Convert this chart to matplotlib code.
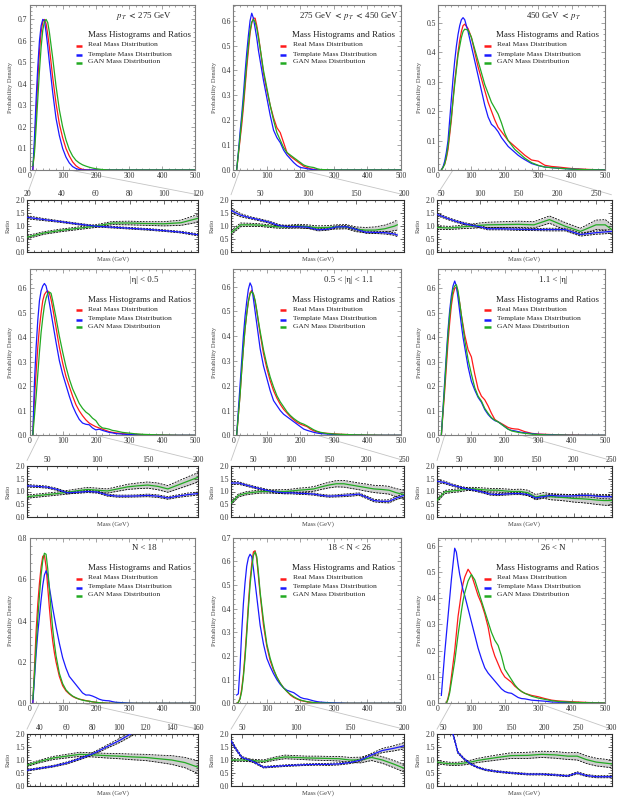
import numpy as np
import matplotlib
matplotlib.use("Agg")
import matplotlib.pyplot as plt
from matplotlib.patches import ConnectionPatch
from matplotlib.ticker import MultipleLocator, FormatStrFormatter, FixedLocator

nan = float("nan")

# ---------------- data ----------------
mass_grid = [10, 15, 20, 25, 30, 35, 40, 45, 50, 55, 60, 65, 70, 75, 80,
             90, 100, 110, 120, 130, 140, 150, 160, 170, 180, 190, 200, 210, 220, 230,
             240, 250, 260, 280, 300, 320, 340, 360, 400, 450, 500]

panel_labels = [r"$\boldsymbol{p_T}$ $\boldsymbol{<}$ 275 GeV",
                r"275 GeV $\boldsymbol{<}$ $\boldsymbol{p_T}$ $\boldsymbol{<}$ 450 GeV",
                r"450 GeV $\boldsymbol{<}$ $\boldsymbol{p_T}$",
                "|η| < 0.5", "0.5 < |η| < 1.1", "1.1 < |η|",
                "N < 18", "18 < N < 26", "26 < N"]
legend_title = "Mass Histograms and Ratios"
legend_names = ["Real Mass Distribution", "Template Mass Distribution", "GAN Mass Distribution"]

# pT < 275
pt1_real = [0, .10, .26, .42, .55, .64, .69, .70, .68, .63, .57, .50, .43, .37, .31,
            .215, .15, .10, .065, .038, .02, .009, .003, .001, 0, 0, 0, 0, 0, 0, 0, 0, 0, 0, 0, 0, 0, 0, 0, 0, 0]
pt1_template = [0, .15, .33, .48, .60, .67, .70, .695, .64, .575, .50, .43, .36, .30, .24,
                .16, .10, .06, .033, .016, .007, .002, 0, 0, 0, 0, 0, 0, 0, 0, 0, 0, 0, 0, 0, 0, 0, 0, 0, 0, 0]
pt1_gan = [.02, .08, .20, .33, .46, .57, .65, .69, .70, .685, .64, .58, .52, .455, .39,
           .28, .20, .14, .095, .065, .045, .033, .024, .018, .013, .009, .006, .004, .002, .001, 0, 0, 0, 0, 0, 0, 0, 0, 0, 0, 0]
# 275 < pT < 450
pt2_real = [0, .06, .12, .18, .25, .33, .41, .48, .55, .59, .61, .61, .58, .54, .49,
            .39, .32, .26, .21, .17, .15, .11, .07, .055, .045, .035, .025, .015, .01, .005, .003, .001, 0, 0, 0, 0, 0, 0, 0, 0, 0]
pt2_template = [0, .07, .15, .22, .30, .39, .47, .54, .60, .63, .61, .57, .53, .48, .44,
                .36, .29, .22, .16, .13, .11, .08, .06, .045, .03, .018, .01, .008, .005, .003, .001, 0, 0, 0, 0, 0, 0, 0, 0, 0, 0]
pt2_gan = [0, .065, .13, .20, .27, .35, .43, .50, .56, .595, .605, .595, .57, .53, .49,
           .40, .33, .26, .20, .15, .12, .09, .07, .06, .05, .04, .03, .02, .015, .012, .01, .005, .002, .001, 0, 0, 0, 0, 0, 0, 0]
# 450 < pT
pt3_real = [0, .01, .02, .04, .07, .12, .17, .24, .30, .35, .40, .44, .47, .49, .495,
            .48, .45, .40, .35, .31, .27, .23, .20, .17, .145, .13, .115, .10, .09, .08, .07, .06, .05, .034, .03, .016, .012, .01, .005, .002, 0]
pt3_template = [0, .01, .03, .06, .10, .17, .24, .31, .37, .42, .46, .49, .51, .517, .51,
                .47, .42, .37, .32, .27, .22, .18, .155, .145, .13, .11, .095, .08, .07, .06, .05, .042, .035, .022, .015, .01, .008, .006, .003, .001, 0]
pt3_gan = [0, .008, .02, .045, .08, .13, .18, .235, .29, .34, .39, .42, .45, .47, .478,
           .475, .45, .41, .37, .33, .29, .26, .23, .21, .19, .16, .125, .10, .085, .07, .06, .05, .04, .025, .016, .01, .008, .006, .003, .001, 0]
# |eta| < 0.5
eta1_real = [0, .15, .26, .36, .44, .50, .55, .575, .585, .59, .58, .555, .52, .48, .44,
             .36, .295, .24, .20, .16, .125, .10, .08, .063, .05, .042, .035, .03, .025, .02, .015, .012, .01, .007, .005, .004, .003, .002, .001, 0, 0]
eta1_template = [0, .22, .36, .47, .55, .59, .61, .62, .61, .58, .54, .50, .46, .42, .38,
                 .305, .25, .205, .16, .12, .09, .065, .05, .045, .043, .03, .022, .025, .02, .016, .012, .01, .007, .005, .003, .002, .001, .001, 0, 0, 0]
eta1_gan = [0, .08, .16, .25, .34, .42, .48, .53, .56, .58, .585, .58, .55, .515, .48,
            .405, .34, .28, .23, .19, .16, .13, .11, .095, .085, .07, .06, .04, .03, .028, .025, .02, .018, .012, .009, .006, .004, .003, .001, 0, 0]
# 0.5 < |eta| < 1.1
eta2_real = [0, .08, .16, .26, .35, .43, .49, .54, .575, .585, .57, .54, .50, .455, .41,
             .33, .27, .22, .18, .15, .125, .105, .09, .075, .063, .052, .045, .04, .035, .025, .018, .014, .01, .008, .006, .004, .003, .002, .001, 0, 0]
eta2_template = [0, .10, .20, .30, .40, .48, .54, .59, .615, .60, .55, .50, .45, .40, .35,
                 .28, .23, .18, .14, .12, .10, .085, .075, .065, .055, .045, .035, .025, .02, .016, .012, .009, .007, .005, .003, .002, .001, .001, 0, 0, 0]
eta2_gan = [0, .08, .16, .26, .35, .43, .49, .54, .57, .58, .57, .545, .505, .46, .42,
            .345, .285, .235, .195, .16, .135, .115, .095, .08, .068, .058, .05, .045, .038, .03, .022, .016, .012, .007, .005, .004, .003, .002, .001, 0, 0]
# 1.1 < |eta|
eta3_real = [0, .09, .18, .28, .38, .46, .53, .575, .60, .605, .58, .54, .49, .45, .41,
             .35, .32, .25, .19, .16, .145, .12, .09, .065, .055, .048, .04, .032, .028, .026, .025, .02, .015, .008, .005, .004, .003, .002, .001, 0, 0]
eta3_template = [0, .11, .22, .33, .43, .51, .57, .61, .63, .61, .56, .505, .45, .40, .36,
                 .28, .22, .185, .155, .135, .105, .085, .07, .06, .055, .045, .035, .025, .02, .018, .015, .012, .01, .007, .004, .003, .002, .001, 0, 0, 0]
eta3_gan = [0, .10, .20, .31, .41, .49, .55, .595, .61, .615, .59, .54, .49, .44, .39,
            .31, .25, .195, .16, .14, .11, .09, .072, .062, .055, .045, .035, .025, .018, .015, .012, .01, .008, .005, .003, .002, .001, .001, 0, 0, 0]
# N < 18
n1_real = [0, .17, .35, .48, .58, .66, .71, .715, .66, .56, .46, .37, .30, .245, .20,
           .13, .085, .06, .045, .033, .025, .02, .017, .013, .01, .007, .005, .003, .002, .001, 0, 0, 0, 0, 0, 0, 0, 0, 0, 0, 0]
n1_template = [0, .12, .24, .34, .42, .50, .57, .62, .64, .62, .56, .51, .46, .415, .37,
               .29, .22, .17, .13, .11, .09, .07, .05, .04, .04, .035, .028, .02, .015, .013, .012, .008, .005, .003, .001, 0, 0, 0, 0, 0, 0]
n1_gan = [.02, .14, .28, .41, .52, .62, .69, .725, .72, .65, .55, .45, .36, .29, .23,
          .145, .095, .065, .048, .035, .027, .02, .015, .012, .01, .007, .005, .003, .002, .001, 0, 0, 0, 0, 0, 0, 0, 0, 0, 0, 0]
# 18 < N < 26
n2_real = [0, .005, .02, .06, .12, .21, .31, .42, .52, .59, .64, .645, .61, .535, .46,
           .33, .24, .18, .14, .11, .085, .065, .05, .035, .025, .018, .012, .009, .006, .004, .003, .002, .001, .001, 0, 0, 0, 0, 0, 0, 0]
n2_template = [.035, .04, .15, .30, .42, .51, .58, .615, .63, .62, .57, .51, .45, .39, .33,
               .25, .19, .155, .125, .10, .08, .065, .055, .05, .045, .035, .025, .02, .018, .014, .01, .007, .005, .003, .002, .001, 0, 0, 0, 0, 0]
n2_gan = [0, .004, .018, .05, .11, .19, .29, .40, .50, .57, .625, .64, .62, .55, .47,
          .35, .25, .19, .145, .11, .085, .065, .05, .038, .028, .02, .014, .01, .007, .005, .003, .002, .001, .001, 0, 0, 0, 0, 0, 0, 0]
# 26 < N
n3_real = [nan, nan, nan, 0, .02, .05, .10, .15, .20, .265, .33, .375, .42, .455, .48,
           .51, .49, .45, .41, .38, .34, .29, .22, .18, .15, .12, .10, .09, .08, .065, .055, .045, .038, .03, .025, .018, .012, .009, .006, .003, .001]
n3_template = [.03, .11, .19, .26, .33, .40, .47, .53, .59, .575, .53, .49, .46, .43, .41,
               .36, .31, .26, .21, .17, .135, .115, .10, .085, .07, .055, .045, .04, .038, .03, .022, .018, .017, .012, .01, .008, .005, .004, .003, .001, 0]
n3_gan = [nan, nan, nan, 0, .015, .04, .08, .12, .16, .21, .26, .305, .35, .39, .42,
          .465, .49, .47, .43, .39, .35, .31, .27, .24, .22, .18, .13, .11, .09, .07, .055, .045, .038, .027, .02, .015, .01, .007, .004, .002, .001]

# ratio plots
pt1_ratio_mass = [20, 30, 40, 50, 60, 70, 80, 90, 100, 110, 120]
pt1_tmpl_ratio = [1.34, 1.25, 1.17, 1.08, 1.00, 0.96, 0.92, 0.88, 0.83, 0.77, 0.67]
pt1_tmpl_err = [0.06, 0.04, 0.03, 0.03, 0.03, 0.03, 0.03, 0.03, 0.03, 0.03, 0.04]
pt1_gan_ratio = [0.58, 0.74, 0.84, 0.92, 1.00, 1.12, 1.12, 1.10, 1.09, 1.13, 1.30]
pt1_gan_err = [0.06, 0.05, 0.05, 0.05, 0.05, 0.06, 0.07, 0.07, 0.08, 0.10, 0.15]

pt2_ratio_mass = [20, 30, 40, 50, 60, 70, 80, 90, 100, 110, 120, 130, 140, 150, 160, 170, 180, 190, 193]
pt2_tmpl_ratio = [1.60, 1.42, 1.32, 1.24, 1.15, 1.02, 0.98, 0.98, 0.96, 0.86, 0.88, 0.97, 0.98, 0.88, 0.77, 0.76, 0.75, 0.70, 0.66]
pt2_tmpl_err = [0.10, 0.06, 0.04, 0.04, 0.04, 0.04, 0.04, 0.04, 0.04, 0.04, 0.04, 0.04, 0.04, 0.04, 0.04, 0.04, 0.05, 0.05, 0.06]
pt2_gan_ratio = [0.75, 1.05, 1.05, 1.04, 1.00, 0.97, 0.98, 1.00, 0.98, 0.94, 0.95, 0.97, 0.98, 0.88, 0.85, 0.85, 0.90, 1.00, 1.05]
pt2_gan_err = [0.08, 0.07, 0.06, 0.05, 0.05, 0.05, 0.06, 0.07, 0.07, 0.07, 0.07, 0.08, 0.08, 0.09, 0.10, 0.12, 0.14, 0.17, 0.20]

pt3_ratio_mass = [45, 60, 70, 80, 90, 100, 110, 130, 150, 170, 190, 210, 230, 250, 262, 270]
pt3_tmpl_ratio = [1.45, 1.28, 1.18, 1.10, 1.03, 0.98, 0.90, 0.90, 0.88, 0.87, 0.87, 0.87, 0.68, 0.75, 0.78, 0.80]
pt3_tmpl_err = [0.05, 0.04, 0.04, 0.04, 0.04, 0.04, 0.04, 0.04, 0.04, 0.04, 0.05, 0.05, 0.06, 0.06, 0.07, 0.07]
pt3_gan_ratio = [0.95, 0.93, 0.95, 0.98, 1.00, 1.03, 1.05, 1.06, 1.07, 1.05, 1.25, 1.00, 0.80, 1.05, 1.05, 0.88]
pt3_gan_err = [0.07, 0.06, 0.06, 0.07, 0.08, 0.09, 0.10, 0.11, 0.12, 0.12, 0.14, 0.14, 0.12, 0.18, 0.20, 0.18]

eta1_ratio_mass = [30, 40, 50, 60, 70, 80, 90, 100, 110, 120, 130, 140, 150, 160, 170, 180, 190, 200]
eta1_tmpl_ratio = [1.22, 1.20, 1.17, 1.08, 0.95, 0.97, 1.00, 0.98, 0.86, 0.82, 0.82, 0.83, 0.85, 0.82, 0.75, 0.82, 0.88, 0.92]
eta1_tmpl_err = [0.05, 0.04, 0.04, 0.04, 0.04, 0.04, 0.04, 0.04, 0.04, 0.04, 0.04, 0.04, 0.05, 0.05, 0.05, 0.05, 0.06, 0.06]
eta1_gan_ratio = [0.80, 0.84, 0.88, 0.92, 0.97, 1.03, 1.08, 1.05, 1.02, 1.10, 1.18, 1.22, 1.25, 1.20, 1.10, 1.25, 1.40, 1.55]
eta1_gan_err = [0.06, 0.06, 0.06, 0.06, 0.07, 0.07, 0.08, 0.08, 0.08, 0.09, 0.10, 0.11, 0.12, 0.13, 0.13, 0.15, 0.17, 0.18]

eta2_ratio_mass = [20, 30, 40, 50, 60, 70, 80, 90, 100, 110, 120, 130, 140, 150, 160, 170, 180, 190, 200, 210, 220, 230, 240, 250]
eta2_tmpl_ratio = [1.33, 1.33, 1.25, 1.17, 1.10, 1.03, 0.98, 0.95, 0.95, 0.93, 0.92, 0.90, 0.85, 0.82, 0.83, 0.85, 0.87, 0.90, 0.78, 0.65, 0.62, 0.62, 0.75, 0.85]
eta2_tmpl_err = [0.06, 0.05, 0.04, 0.04, 0.04, 0.04, 0.04, 0.04, 0.04, 0.04, 0.04, 0.04, 0.04, 0.04, 0.04, 0.05, 0.05, 0.05, 0.05, 0.05, 0.05, 0.06, 0.06, 0.07]
eta2_gan_ratio = [0.55, 0.85, 0.93, 0.97, 1.00, 1.00, 1.00, 1.00, 1.02, 1.05, 1.07, 1.10, 1.18, 1.25, 1.30, 1.30, 1.25, 1.20, 1.15, 1.10, 1.08, 1.05, 0.95, 0.88]
eta2_gan_err = [0.06, 0.06, 0.06, 0.06, 0.06, 0.06, 0.07, 0.07, 0.07, 0.08, 0.08, 0.09, 0.10, 0.11, 0.12, 0.13, 0.13, 0.13, 0.14, 0.14, 0.15, 0.15, 0.16, 0.17]

eta3_ratio_mass = [20, 30, 40, 50, 60, 70, 80, 90, 100, 110, 120, 130, 140, 150, 160, 170, 180, 190, 200, 210, 220, 230, 240, 250]
eta3_tmpl_ratio = [1.40, 1.35, 1.25, 1.17, 1.10, 1.05, 0.98, 0.90, 0.88, 0.90, 0.92, 0.92, 0.88, 0.75, 0.80, 0.85, 0.83, 0.82, 0.83, 0.85, 0.85, 0.82, 0.80, 0.80]
eta3_tmpl_err = [0.06, 0.05, 0.04, 0.04, 0.04, 0.04, 0.04, 0.04, 0.04, 0.04, 0.04, 0.04, 0.04, 0.04, 0.04, 0.05, 0.05, 0.05, 0.05, 0.06, 0.06, 0.07, 0.08, 0.09]
eta3_gan_ratio = [0.65, 0.98, 1.02, 1.05, 1.10, 1.10, 1.07, 1.05, 1.05, 1.02, 1.00, 1.00, 0.95, 0.78, 0.85, 0.80, 0.78, 0.76, 0.73, 0.72, 0.70, 0.67, 0.65, 0.65]
eta3_gan_err = [0.06, 0.06, 0.06, 0.06, 0.06, 0.06, 0.07, 0.07, 0.07, 0.08, 0.08, 0.09, 0.10, 0.10, 0.11, 0.12, 0.12, 0.13, 0.14, 0.15, 0.16, 0.17, 0.18, 0.20]

n1_ratio_mass = [30, 40, 50, 60, 70, 80, 90, 100, 110, 120, 130, 140, 150, 160]
n1_tmpl_ratio = [0.60, 0.68, 0.76, 0.88, 1.05, 1.24, 1.50, 1.75, 2.05, 2.30, 2.50, 2.70, 2.90, 3.00]
n1_tmpl_err = [0.03, 0.03, 0.03, 0.04, 0.04, 0.05, 0.06, 0.08, 0.10, 0.12, 0.14, 0.16, 0.18, 0.20]
n1_gan_ratio = [0.80, 0.95, 1.08, 1.15, 1.22, 1.20, 1.17, 1.15, 1.12, 1.10, 1.05, 1.00, 0.90, 0.72]
n1_gan_err = [0.05, 0.05, 0.06, 0.07, 0.08, 0.08, 0.09, 0.10, 0.11, 0.12, 0.14, 0.17, 0.20, 0.25]

n2_ratio_mass = [40, 45, 50, 60, 70, 80, 90, 100, 110, 120, 130, 140, 150, 160, 170, 180, 190, 200]
n2_tmpl_ratio = [1.75, 1.40, 1.10, 0.95, 0.72, 0.75, 0.78, 0.80, 0.82, 0.83, 0.83, 0.85, 0.90, 1.00, 1.20, 1.37, 1.45, 1.55]
n2_tmpl_err = [0.06, 0.05, 0.04, 0.04, 0.03, 0.03, 0.03, 0.03, 0.03, 0.03, 0.04, 0.04, 0.04, 0.05, 0.06, 0.08, 0.10, 0.12]
n2_gan_ratio = [1.00, 1.00, 1.00, 0.98, 0.95, 1.05, 1.12, 1.10, 1.08, 1.07, 1.06, 1.05, 1.00, 1.00, 1.10, 1.00, 0.85, 0.68]
n2_gan_err = [0.06, 0.05, 0.05, 0.05, 0.05, 0.06, 0.07, 0.07, 0.07, 0.08, 0.08, 0.09, 0.10, 0.11, 0.12, 0.13, 0.14, 0.15]

n3_ratio_mass = [40, 50, 60, 64, 71, 80, 90, 100, 112, 130, 150, 175, 196, 216, 235, 249, 262, 277, 300]
n3_tmpl_ratio = [2.60, 2.35, 2.10, 2.00, 1.30, 1.05, 0.85, 0.72, 0.62, 0.55, 0.50, 0.45, 0.45, 0.42, 0.38, 0.50, 0.40, 0.35, 0.35]
n3_tmpl_err = [0.10, 0.08, 0.06, 0.05, 0.04, 0.03, 0.03, 0.03, 0.03, 0.03, 0.03, 0.03, 0.03, 0.03, 0.03, 0.04, 0.04, 0.04, 0.04]
n3_gan_ratio = [0.92, 0.88, 0.85, 0.85, 0.85, 0.88, 0.92, 0.98, 1.03, 1.10, 1.17, 1.18, 1.22, 1.20, 1.15, 1.15, 1.02, 0.92, 0.85]
n3_gan_err = [0.07, 0.06, 0.06, 0.06, 0.06, 0.07, 0.07, 0.08, 0.09, 0.10, 0.11, 0.12, 0.12, 0.13, 0.13, 0.15, 0.15, 0.15, 0.15]

ratio_xlims = [(20, 120), (20, 200), (45, 270), (30, 200), (20, 250), (20, 250), (30, 160), (40, 200), (40, 300)]
ratio_xticks = [[20, 40, 60, 80, 100, 120], [50, 100, 150, 200], [50, 100, 150, 200, 250],
                [50, 100, 150, 200], [50, 100, 150, 200, 250], [50, 100, 150, 200, 250],
                [40, 60, 80, 100, 120, 140, 160], [50, 100, 150, 200], [50, 100, 150, 200, 250, 300]]
main_ytops = [0.767, 0.663, 0.56, 0.678, 0.67, 0.678, 0.80, 0.70, 0.63]
main_ysteps = [0.1, 0.1, 0.1, 0.1, 0.1, 0.1, 0.2, 0.1, 0.1]

# ---------------- style ----------------
plt.rcParams['font.family'] = ['Liberation Serif', 'DejaVu Serif']
plt.rcParams['mathtext.fontset'] = 'stix'

RED, BLUE, GREEN = '#ff1a1a', '#1a1aff', '#22aa22'
FRAME_MAIN = '#7e7e7e'
FRAME_RATIO = '#2e2e2e'
TICKC = '#333333'

W, H = 617, 802
fig = plt.figure(figsize=(W / 100, H / 100), dpi=100)

main_cols = [(29.5, 195.3), (233.3, 401.0), (438.0, 605.0)]
ratio_cols = [(27.0, 198.0), (231.0, 404.0), (437.0, 611.5)]
main_rows = [(5.0, 170.0), (269.3, 435.3), (537.7, 703.3)]
ratio_rows = [(200.0, 252.3), (465.7, 517.3), (734.3, 785.7)]


def rect(xs, ys):
    x0, x1 = xs
    y0, y1 = ys
    return [x0 / W, 1 - y1 / H, (x1 - x0) / W, (y1 - y0) / H]


mains = [(pt1_real, pt1_template, pt1_gan), (pt2_real, pt2_template, pt2_gan), (pt3_real, pt3_template, pt3_gan),
         (eta1_real, eta1_template, eta1_gan), (eta2_real, eta2_template, eta2_gan), (eta3_real, eta3_template, eta3_gan),
         (n1_real, n1_template, n1_gan), (n2_real, n2_template, n2_gan), (n3_real, n3_template, n3_gan)]
ratios = [(pt1_ratio_mass, pt1_tmpl_ratio, pt1_tmpl_err, pt1_gan_ratio, pt1_gan_err),
          (pt2_ratio_mass, pt2_tmpl_ratio, pt2_tmpl_err, pt2_gan_ratio, pt2_gan_err),
          (pt3_ratio_mass, pt3_tmpl_ratio, pt3_tmpl_err, pt3_gan_ratio, pt3_gan_err),
          (eta1_ratio_mass, eta1_tmpl_ratio, eta1_tmpl_err, eta1_gan_ratio, eta1_gan_err),
          (eta2_ratio_mass, eta2_tmpl_ratio, eta2_tmpl_err, eta2_gan_ratio, eta2_gan_err),
          (eta3_ratio_mass, eta3_tmpl_ratio, eta3_tmpl_err, eta3_gan_ratio, eta3_gan_err),
          (n1_ratio_mass, n1_tmpl_ratio, n1_tmpl_err, n1_gan_ratio, n1_gan_err),
          (n2_ratio_mass, n2_tmpl_ratio, n2_tmpl_err, n2_gan_ratio, n2_gan_err),
          (n3_ratio_mass, n3_tmpl_ratio, n3_tmpl_err, n3_gan_ratio, n3_gan_err)]

for i, m in enumerate(mains):
    for s in m:
        assert len(s) == len(mass_grid), (i, len(s))
for i, r in enumerate(ratios):
    for s in r:
        assert len(s) == len(r[0]), (i, len(s))


def style_axis(ax, frame):
    for sp in ax.spines.values():
        sp.set_color(frame)
        sp.set_linewidth(0.8)
    ax.tick_params(which='both', direction='in', top=True, right=True, color=frame,
                   labelsize=5.5, labelcolor=TICKC, width=0.5, pad=1.5)
    ax.tick_params(which='major', length=2.6)
    ax.tick_params(which='minor', length=1.4)


def band(ax, x, r, e, color):
    x = np.array(x, float)
    r = np.array(r, float)
    e = np.array(e, float)
    ax.fill_between(x, r - e, r + e, color='#cfcfcf', lw=0, zorder=1)
    ax.plot(x, r + e, color='k', lw=0.6, ls=(0, (2.2, 1.4)), zorder=2)
    ax.plot(x, r - e, color='k', lw=0.6, ls=(0, (2.2, 1.4)), zorder=2)
    ax.plot(x, r, color=color, lw=0.9, zorder=3)


for k in range(9):
    row, col = divmod(k, 3)
    real, tmpl, gan = mains[k]
    ax = fig.add_axes(rect(main_cols[col], main_rows[row]))
    style_axis(ax, FRAME_MAIN)
    ax.plot(mass_grid, real, color=RED, lw=0.9, zorder=3)
    ax.plot(mass_grid, tmpl, color=BLUE, lw=0.9, zorder=3)
    ax.plot(mass_grid, gan, color=GREEN, lw=0.9, zorder=3)
    ax.set_xlim(0, 500)
    ax.set_ylim(0, main_ytops[k])
    ax.xaxis.set_major_locator(MultipleLocator(100))
    ax.xaxis.set_minor_locator(MultipleLocator(20))
    ystep = main_ysteps[k]
    ax.yaxis.set_major_locator(MultipleLocator(ystep))
    ax.yaxis.set_minor_locator(MultipleLocator(ystep / 5))
    ax.yaxis.set_major_formatter(FormatStrFormatter('%.1f'))
    ax.tick_params(labeltop=False, labelright=False)

    ax.text(0.69, 0.935, panel_labels[k], transform=ax.transAxes, ha='center', va='center',
            fontsize=6.3, color='#222222')
    ax.text(0.35, 0.818, legend_title, transform=ax.transAxes, ha='left', va='center',
            fontsize=6.45, color='#222222')
    for yy, name, c in zip([0.758, 0.703, 0.656], legend_names, [RED, BLUE, GREEN]):
        ax.plot([0.278, 0.315], [yy - 0.006, yy - 0.006], transform=ax.transAxes, color=c, lw=1.8,
                solid_capstyle='butt', clip_on=False)
        ax.text(0.355, yy, name, transform=ax.transAxes, ha='left', va='center', fontsize=5.4,
                color='#222222')

    mx0, mx1 = main_cols[col]
    my0, my1 = main_rows[row]
    fig.text((mx0 - 19) / W, 1 - (my0 + my1) / 2 / H, "Probability Density", rotation=90,
             ha='center', va='center', fontsize=4.7, color='#444444')

    # ratio
    rx, rt, rte, rg, rge = ratios[k]
    axr = fig.add_axes(rect(ratio_cols[col], ratio_rows[row]))
    style_axis(axr, FRAME_RATIO)
    band(axr, rx, rg, rge, GREEN)
    band(axr, rx, rt, rte, BLUE)
    axr.set_xlim(*ratio_xlims[k])
    axr.set_ylim(0, 2.0)
    axr.xaxis.set_major_locator(FixedLocator(ratio_xticks[k]))
    step = ratio_xticks[k][1] - ratio_xticks[k][0]
    axr.xaxis.set_minor_locator(MultipleLocator(step / 5))
    axr.yaxis.set_major_locator(MultipleLocator(0.5))
    axr.yaxis.set_minor_locator(MultipleLocator(0.1))
    axr.yaxis.set_major_formatter(FormatStrFormatter('%.1f'))
    axr.tick_params(labeltop=True, labelbottom=False, labelright=False)

    rx0, rx1 = ratio_cols[col]
    ry0, ry1 = ratio_rows[row]
    fig.text((rx0 - 19) / W, 1 - (ry0 + ry1) / 2 / H, "Ratio", rotation=90,
             ha='center', va='center', fontsize=4.7, color='#444444')
    fig.text((rx0 + rx1) / 2 / W, 1 - (ry1 + 7) / H, "Mass (GeV)", ha='center', va='center',
             fontsize=4.7, color='#444444')

    xa, xb = ratio_xlims[k]
    for xm, xr in [(xa, 0.0), (xb, 1.0)]:
        con = ConnectionPatch(xyA=(xm, 0), coordsA=ax.transData, xyB=(xr, 1.1), coordsB=axr.transAxes,
                              color='#c4c4c4', lw=0.6, zorder=0)
        fig.add_artist(con)

fig.savefig("out.png", dpi=100)
